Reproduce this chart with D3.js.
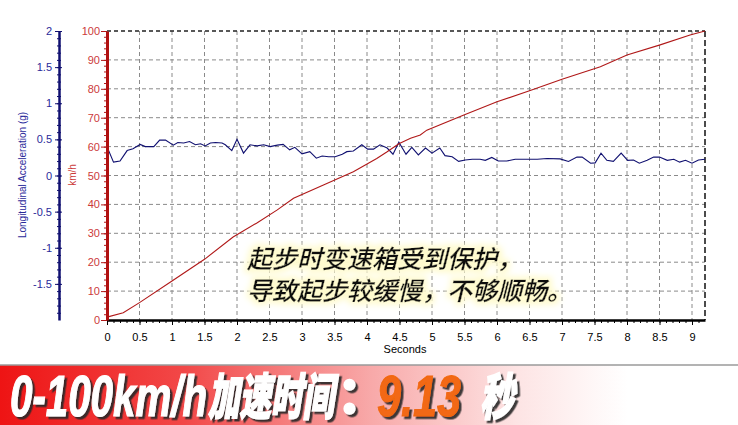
<!DOCTYPE html>
<html><head><meta charset="utf-8">
<script src="https://cdn.jsdelivr.net/npm/d3@7"></script>
<style>body{margin:0;background:#fff}svg{display:block}</style>
</head><body>
<script>
// ---- data ----
const accTime = [0,0.10,0.20,0.31,0.40,0.51,0.59,0.72,0.81,0.90,1.02,1.09,1.18,1.27,1.36,1.44,1.51,1.59,1.67,1.77,1.82,1.92,2.00,2.10,2.20,2.31,2.41,2.51,2.62,2.71,2.81,2.89,3.00,3.12,3.22,3.31,3.41,3.51,3.62,3.69,3.79,3.92,4.01,4.10,4.20,4.31,4.40,4.49,4.60,4.69,4.79,4.90,5.00,5.12,5.20,5.31,5.41,5.51,5.62,5.74,5.82,5.92,6.02,6.15,6.28,6.43,6.62,6.77,6.97,7.10,7.23,7.31,7.44,7.51,7.60,7.69,7.79,7.91,8.01,8.10,8.19,8.31,8.41,8.50,8.62,8.72,8.81,8.90,9.00,9.10,9.20];
const accG = [0.40,0.185,0.20,0.345,0.37,0.43,0.40,0.40,0.49,0.49,0.42,0.457,0.45,0.47,0.425,0.44,0.41,0.45,0.457,0.45,0.425,0.345,0.50,0.31,0.425,0.41,0.425,0.40,0.42,0.43,0.355,0.39,0.30,0.33,0.24,0.27,0.26,0.26,0.295,0.33,0.34,0.425,0.365,0.365,0.425,0.38,0.295,0.46,0.295,0.39,0.285,0.38,0.31,0.38,0.275,0.26,0.195,0.215,0.225,0.225,0.21,0.25,0.20,0.20,0.225,0.225,0.225,0.235,0.23,0.195,0.255,0.255,0.17,0.175,0.31,0.21,0.195,0.31,0.21,0.215,0.17,0.21,0.255,0.255,0.21,0.225,0.185,0.21,0.17,0.215,0.225];
const speedTime = [0,0.25,0.5,1.0,1.5,1.94,2.3,2.62,2.87,3.33,3.79,4.15,4.31,4.49,4.67,4.82,4.92,5.5,6.0,6.5,7.0,7.59,8.0,8.51,8.97,9.2];
const speedKmh  = [1.0,2.5,6.0,13.5,21.0,28.7,33.5,38.1,42.1,46.7,51.3,55.9,58.2,61.0,62.9,64.0,65.7,71.0,75.5,79.3,83.3,87.6,91.7,95.2,98.6,100];
const xTicks = [0,0.5,1,1.5,2,2.5,3,3.5,4,4.5,5,5.5,6,6.5,7,7.5,8,8.5,9];
const speedTicks = [0,10,20,30,40,50,60,70,80,90,100];
const accTicks = [-1.5,-1,-0.5,0,0.5,1,1.5,2];
const note = ["起步时变速箱受到保护，","导致起步较缓慢，不够顺畅。"];
const banner = {lead:"0-100km/h", cn:"加速时间", colon:"：", value:"9.13", unit:"秒"};

// ---- layout ----
const W=738,H=425;
const svg=d3.select("body").append("svg").attr("width",W).attr("height",H);
const defs=svg.append("defs");
const x=d3.scaleLinear().domain([0,9.2]).range([107,705]);
const yS=d3.scaleLinear().domain([0,100]).range([320,31]);
const yA=d3.scaleLinear().domain([-2,2]).range([320,31]);
const font="'Liberation Sans', Arial, sans-serif";

// grid
const grid=svg.append("g");
grid.selectAll("line.v").data(xTicks.filter(d=>d>0)).join("line")
  .attr("x1",d=>x(d)).attr("x2",d=>x(d)).attr("y1",yS(100)).attr("y2",yS(0))
  .attr("stroke","#8a8a8a").attr("stroke-dasharray","4,3");
grid.selectAll("line.h").data(speedTicks.filter(d=>d>0&&d<100)).join("line")
  .attr("x1",x(0)).attr("x2",x(9.2)).attr("y1",d=>yS(d)).attr("y2",d=>yS(d))
  .attr("stroke","#8a8a8a").attr("stroke-dasharray","4,3");
grid.append("line").attr("x1",x(0)).attr("x2",x(9.2)).attr("y1",yS(100)).attr("y2",yS(100))
  .attr("stroke","#222").attr("stroke-dasharray","4,3").attr("stroke-width",1.5);
grid.append("line").attr("x1",x(9.2)).attr("x2",x(9.2)).attr("y1",yS(100)).attr("y2",yS(0))
  .attr("stroke","#111").attr("stroke-dasharray","6,3").attr("stroke-width",1.5);

// lines
svg.append("path").datum(d3.zip(accTime,accG)).attr("fill","none")
  .attr("stroke","#101070").attr("stroke-width",1.1)
  .attr("d",d3.line().x(d=>x(d[0])).y(d=>yA(d[1])));
svg.append("path").datum(d3.zip(speedTime,speedKmh)).attr("fill","none")
  .attr("stroke","#b01818").attr("stroke-width",1.1)
  .attr("d",d3.line().x(d=>x(d[0])).y(d=>yS(d[1])));

// bottom axis
const gx=svg.append("g").attr("transform",`translate(0,${yS(0)})`);
gx.call(d3.axisBottom(x).tickValues(d3.range(0,92).map(i=>i/10)).tickSize(3).tickSizeOuter(0).tickFormat(""));
gx.call(g=>g.selectAll(".tick line").attr("stroke","#000"));
const gx2=svg.append("g").attr("transform",`translate(0,${yS(0)})`);
gx2.call(d3.axisBottom(x).tickValues(xTicks).tickSize(5).tickSizeOuter(0).tickPadding(8).tickFormat(d=>String(d)));
gx2.select(".domain").attr("stroke","#000").attr("stroke-width",2.5);
gx2.selectAll("text").attr("font-family",font).attr("font-size",11).attr("fill","#000");
gx.select(".domain").remove();
svg.append("text").attr("x",405).attr("y",353).attr("text-anchor","middle")
  .attr("font-family",font).attr("font-size",11).text("Seconds");

// speed axis (red)
const gs=svg.append("g").attr("transform",`translate(${x(0)},0)`);
gs.call(d3.axisLeft(yS).tickValues(d3.range(0,101,2)).tickSize(3).tickSizeOuter(0).tickFormat(""));
gs.selectAll(".tick line").attr("stroke","#b01818");
gs.select(".domain").remove();
const gs2=svg.append("g").attr("transform",`translate(${x(0)},0)`);
gs2.call(d3.axisLeft(yS).tickValues(speedTicks).tickSize(6).tickSizeOuter(0).tickPadding(1).tickFormat(d=>String(d)));
gs2.select(".domain").attr("stroke","#b01010").attr("stroke-width",3);
gs2.selectAll(".tick line").attr("stroke","#b01818");
gs2.selectAll("text").attr("font-family",font).attr("font-size",11).attr("fill","#cc3a3a");
svg.append("text").attr("transform",`translate(76,175) rotate(-90)`).attr("text-anchor","middle")
  .attr("font-family",font).attr("font-size",10).attr("fill","#cc3a3a").text("km/h");

// acceleration axis (blue)
const ga=svg.append("g").attr("transform",`translate(59,0)`);
ga.call(d3.axisLeft(yA).tickValues(d3.range(-19,21).map(i=>i/10)).tickSize(2).tickSizeOuter(0).tickFormat(""));
ga.selectAll(".tick line").attr("stroke","#101070").attr("x1",2);
ga.select(".domain").remove();
const ga2=svg.append("g").attr("transform",`translate(59,0)`);
ga2.call(d3.axisLeft(yA).tickValues(accTicks).tickSize(4).tickSizeOuter(0).tickPadding(3).tickFormat(d=>String(d)));
ga2.select(".domain").attr("stroke","#101070").attr("stroke-width",2.5);
ga2.selectAll(".tick line").attr("stroke","#101070").attr("x1",3);
ga2.selectAll("text").attr("font-family",font).attr("font-size",11).attr("fill","#2a2a9a");
svg.append("text").attr("transform",`translate(26,175) rotate(-90)`).attr("text-anchor","middle")
  .attr("font-family",font).attr("font-size",10).attr("fill","#2a2a9a").text("Longitudinal Acceleration (g)");

// annotation
const glow=defs.append("filter").attr("id","glow").attr("x","-10%").attr("y","-40%").attr("width","120%").attr("height","180%");
glow.append("feMorphology").attr("in","SourceAlpha").attr("operator","dilate").attr("radius",3).attr("result","d");
glow.append("feGaussianBlur").attr("in","d").attr("stdDeviation",3).attr("result","b");
glow.append("feFlood").attr("flood-color","#fffbcf");
glow.append("feComposite").attr("in2","b").attr("operator","in").attr("result","g");
const fm=glow.append("feMerge");
fm.append("feMergeNode").attr("in","g");fm.append("feMergeNode").attr("in","SourceGraphic");
svg.append("g").attr("filter","url(#glow)").selectAll("text").data(note).join("text")
  .attr("x",247).attr("y",(d,i)=>268+i*32)
  .attr("font-family","'Noto Sans CJK SC', sans-serif").attr("font-size",25)
  .attr("font-style","italic").attr("font-weight",500).attr("fill","#111")
  .attr("stroke","#111").attr("stroke-width",0.3).text(d=>d);

// banner
const grad=defs.append("linearGradient").attr("id","bg").attr("x1",0).attr("x2",1).attr("y1",0).attr("y2",0);
[[0,"#ee1414"],[0.25,"#f24848"],[0.5,"#f8a8a8"],[0.7,"#fde4e4"],[0.85,"#ffffff"],[1,"#ffffff"]]
  .forEach(s=>grad.append("stop").attr("offset",s[0]).attr("stop-color",s[1]));
svg.append("rect").attr("x",0).attr("y",365).attr("width",W).attr("height",60).attr("fill","url(#bg)");
svg.append("line").attr("x1",0).attr("x2",W).attr("y1",365).attr("y2",365).attr("stroke","#9a9a9a").attr("stroke-width",1.5);
const sh=defs.append("filter").attr("id","sh").attr("x","-10%").attr("y","-20%").attr("width","130%").attr("height","150%");
sh.append("feDropShadow").attr("dx",2.5).attr("dy",2.5).attr("stdDeviation",0.7).attr("flood-color","#2a2a2a").attr("flood-opacity",0.9);
const bg=svg.append("g").attr("filter","url(#sh)");
const latin="'Liberation Sans', Arial, sans-serif";
const cjk="'Noto Sans CJK SC', sans-serif";
bg.append("text").attr("x",10).attr("y",416).attr("font-family",latin).attr("font-weight","bold").attr("font-style","italic")
  .attr("font-size",58).attr("fill","#fff").attr("stroke","#fff").attr("stroke-width",1.2)
  .attr("textLength",197).attr("lengthAdjust","spacingAndGlyphs").text(banner.lead);
bg.append("text").attr("x",208).attr("y",415).attr("font-family",cjk).attr("font-weight",900).attr("font-style","italic")
  .attr("font-size",50).attr("fill","#fff").attr("stroke","#fff").attr("stroke-width",1.5)
  .attr("textLength",126).attr("lengthAdjust","spacingAndGlyphs").text(banner.cn);
bg.append("text").attr("x",337).attr("y",413).attr("font-family",cjk).attr("font-weight",900)
  .attr("font-size",50).attr("fill","#fff").attr("stroke","#fff").attr("stroke-width",1.5).text(banner.colon);
bg.append("text").attr("x",377).attr("y",416).attr("font-family",latin).attr("font-weight","bold").attr("font-style","italic")
  .attr("font-size",58).attr("fill","#f26812").attr("stroke","#f26812").attr("stroke-width",1)
  .attr("textLength",84).attr("lengthAdjust","spacingAndGlyphs").text(banner.value);
bg.append("text").attr("x",480).attr("y",415).attr("font-family",cjk).attr("font-weight",900).attr("font-style","italic")
  .attr("font-size",50).attr("fill","#fff").attr("stroke","#fff").attr("stroke-width",1.5)
  .attr("textLength",34).attr("lengthAdjust","spacingAndGlyphs").text(banner.unit);
</script>
</body></html>
